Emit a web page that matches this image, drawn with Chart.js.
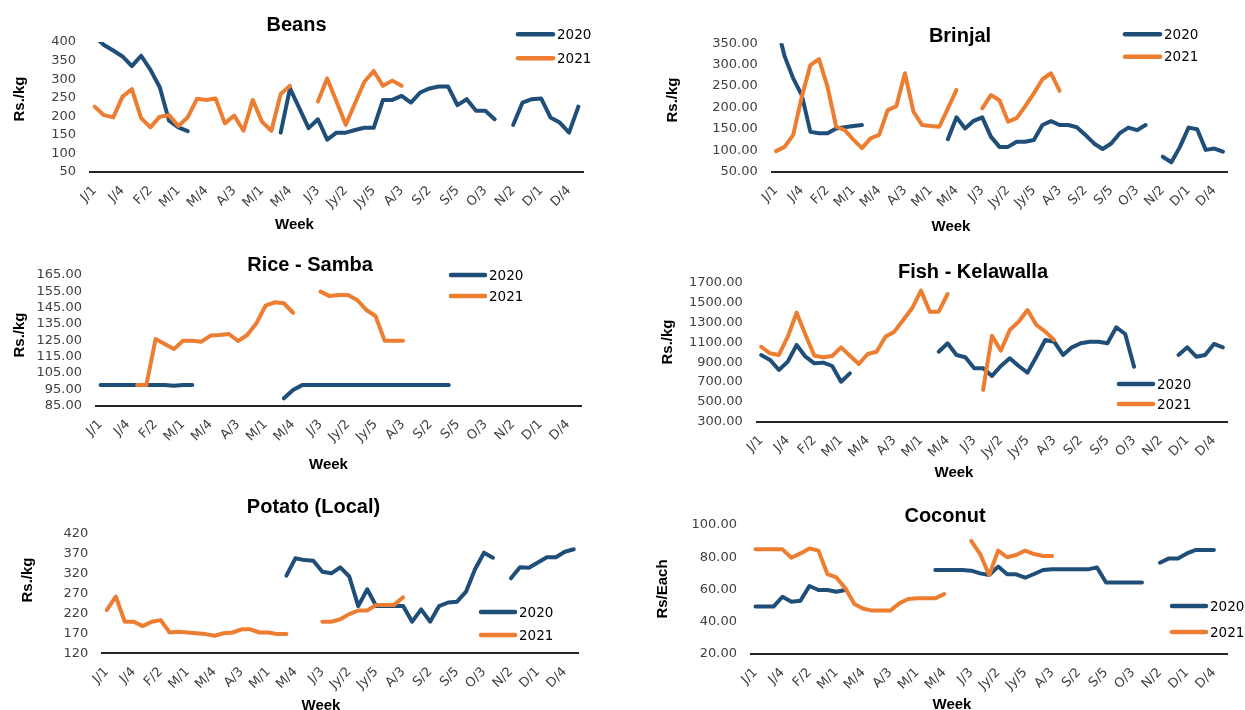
<!DOCTYPE html>
<html><head><meta charset="utf-8">
<script src="https://cdn.jsdelivr.net/npm/chart.js@4.4.1/dist/chart.umd.min.js"></script>
<style>
html,body{margin:0;padding:0;background:#fff;width:1245px;height:710px;overflow:hidden;position:relative}
canvas{position:absolute}
</style></head><body>
<canvas id="c0"></canvas><canvas id="c1"></canvas><canvas id="c2"></canvas>
<canvas id="c3"></canvas><canvas id="c4"></canvas><canvas id="c5"></canvas>
<script>
const N = null;
const weekLabels = ['J/1','J/2','J/3','J/4','J/5','F/1','F/2','F/3','F/4','M/1','M/2','M/3','M/4',
 'A/1','A/2','A/3','A/4','A/5','M/1','M/2','M/3','M/4','J/1','J/2','J/3','J/4',
 'Jy/1','Jy/2','Jy/3','Jy/4','Jy/5','A/1','A/2','A/3','A/4','S/1','S/2','S/3','S/4','S/5',
 'O/1','O/2','O/3','O/4','N/1','N/2','N/3','N/4','D/1','D/2','D/3','D/4','D/5'];
const seriesNames = ['2020','2021'];

const beans2020 = [415,392,377,361,335,363,325,278,188,170,160, N,N,N,N,N,N,N,N,N,
 156,275,222,168,192,137,156,156,163,169,169,244,244,255,237,264,275,280,280,230,246,215,215,192, N,
 177,237,246,248,197,183,156,226];
const beans2021 = [226,203,197,253,273,195,170,199,203,174,197,247,244,248,181,202,161,244,185,161,260,282, N,N,
 240,302,240,177,236,293,322,282,296,282, N,N,N,N,N,N,N,N,N,N,N,N,N,N,N,N,N,N,N];

const brinjal2020 = [400,320,268,229,143,140,140,151,154,157,159, N,N,N,N,N,N,N,N,N,
 126,177,151,169,177,132,108,108,120,120,124,159,168,159,159,154,136,116,103,116,140,153,147,159, N,
 85,72,108,153,149,101,104,97];
const brinjal2021 = [98,108,136,225,299,313,248,155,147,125,105,128,136,194,203,280,190,159,157,155,198,241, N,N,
 198,229,217,167,175,203,233,266,280,239, N,N,N,N,N,N,N,N,N,N,N,N,N,N,N,N,N,N,N];

const rice2020 = [97.6,97.6,97.6,97.6,97.6,97.6,97.6,97.6,97.2,97.6,97.6, N,N,N,N,N,N,N,N,N,
 89.5,94.6,97.6,97.6,97.6,97.6,97.6,97.6,97.6,97.6,97.6,97.6,97.6,97.6,97.6,97.6,97.6,97.6,97.6,
 N,N,N,N,N,N,N,N,N,N,N,N,N,N];
const rice2021 = [N,N,N,N,97.6,97.6,125.8,122.7,119.7,124.8,124.8,124.2,127.9,128.3,128.9,124.6,128.3,135.4,146.2,148.3,147.7,141.9, N,N,
 154.8,152.1,152.8,152.8,149.7,143.6,139.9,124.8,124.8,124.8, N,N,N,N,N,N,N,N,N,N,N,N,N,N,N,N,N,N,N];

const fish2020 = [972,922,821,905,1073,955,888,895,861,703,787, N,N,N,N,N,N,N,N,N,
 1005,1090,972,949,838,838,761,861,939,861,794,955,1123,1106,972,1049,1090,1106,1106,1090,1251,1183,854, N,N,N,N,
 972,1049,955,972,1083,1049];
const fish2021 = [1055,989,972,1156,1398,1173,965,949,962,1049,965,881,982,1005,1156,1207,1324,1442,1620,1408,1408,1586, N,N,N,
 620,1166,1015,1224,1307,1425,1274,1207,1123, N,N,N,N,N,N,N,N,N,N,N,N,N,N,N,N,N,N,N];

const potato2020 = [N,N,N,N,N,N,N,N,N,N,N,N,N,N,N,N,N,N,N,N,
 314,357.5,353,351.5,324,320,335,312,238,280,238,238,238,238,199,230,199,238,247,249,274,330,371.5,359, N,
 307.5,335,334,347,360,360,374,380];
const potato2021 = [228,262,199,199,188,199,203,172,174,172,170,168,164,170,172,180,180,172,172,168,168, N,N,N,
 199,199,205,218,227,227,241,241,241,260, N,N,N,N,N,N,N,N,N,N,N,N,N,N,N,N,N,N,N];

const coconut2020 = [49.4,49.4,49.4,55.5,52.4,53,62.2,59.7,59.7,58.6,59.7, N,N,N,N,N,N,N,N,N,
 72.1,72.1,72.1,72.1,71.7,70,69,74.2,69.4,69.4,67.3,69.6,72.1,72.5,72.5,72.5,72.5,72.5,73.7,64.4,64.4,64.4,64.4,64.4, N,
 76.6,79.3,79.3,82.4,84.5,84.5,84.5, N];
const coconut2021 = [84.9,84.9,84.9,84.9,79.7,82.4,85.5,84.1,69.6,67.5,60.7,51,48.1,46.9,46.9,46.9,51.4,54.1,54.5,54.5,54.5,57.2, N,N,
 90.1,82,69,84.1,80,81.4,84.1,82,80.8,80.8, N,N,N,N,N,N,N,N,N,N,N,N,N,N,N,N,N,N,N];

const BLUE = '#1F4E79', ORANGE = '#ED7D31';
const TICK_FONT = '"DejaVu Sans", sans-serif';
const BOLD_FONT = '"Liberation Sans", Arial, sans-serif';

const panels = [
 {id:'c0', title:'Beans', yTitle:'Rs./kg', d20:beans2020, d21:beans2021, min:50, max:400, step:50, dec:0,
  box:[0,0,622,240], area:[90,42,583,172], tPos:[296.5,31], yPos:[20,99], wPos:[294.5,229], leg:[516,555,34.3,58.3]},
 {id:'c1', title:'Brinjal', yTitle:'Rs./kg', d20:brinjal2020, d21:brinjal2021, min:50, max:350, step:50, dec:2,
  box:[622,0,623,240], area:[771.7,43.3,1240,171.7], tPos:[960,41.7], yPos:[673,100], wPos:[951,230.5], leg:[1123,1162,34.3,56.7]},
 {id:'c2', title:'Rice - Samba', yTitle:'Rs./kg', d20:rice2020, d21:rice2021, min:85, max:165, step:10, dec:2,
  box:[0,240,622,240], area:[96,275,581.7,405.7], tPos:[310,270.7], yPos:[20,335], wPos:[328.5,469], leg:[449,487,275,296]},
 {id:'c3', title:'Fish - Kelawalla', yTitle:'Rs./kg', d20:fish2020, d21:fish2021, min:300, max:1700, step:200, dec:2,
  box:[622,240,623,240], area:[756.7,282.7,1232.7,421.7], tPos:[973,277.7], yPos:[668,342], wPos:[954,477], leg:[1117,1155,384,404]},
 {id:'c4', title:'Potato (Local)', yTitle:'Rs./kg', d20:potato2020, d21:potato2021, min:120, max:420, step:50, dec:0,
  box:[0,480,622,230], area:[102.3,533.3,578.3,653.3], tPos:[313.5,513.3], yPos:[28,580], wPos:[321,710], leg:[479,517,612,635]},
 {id:'c5', title:'Coconut', yTitle:'Rs/Each', d20:coconut2020, d21:coconut2021, min:20, max:100, step:20, dec:2,
  box:[622,480,623,230], area:[751,525,1232.7,654], tPos:[945,521.7], yPos:[663,589], wPos:[952,709], leg:[1170,1208,606,632]}
];

const decor = {
  id: 'decor',
  afterDraw(chart, args, o) {
    const ctx = chart.ctx, ox = o.ox, oy = o.oy;
    ctx.save();
    ctx.fillStyle = '#000';
    ctx.textAlign = 'center';
    ctx.textBaseline = 'alphabetic';
    ctx.font = 'bold 20px ' + BOLD_FONT;
    ctx.fillText(o.title, o.tPos[0] - ox, o.tPos[1] - oy);
    ctx.font = 'bold 15px ' + BOLD_FONT;
    ctx.fillText('Week', o.wPos[0] - ox, o.wPos[1] - oy);
    ctx.save();
    ctx.translate(o.yPos[0] - ox, o.yPos[1] - oy);
    ctx.rotate(-Math.PI / 2);
    ctx.textBaseline = 'middle';
    ctx.fillText(o.yTitle, 0, 0);
    ctx.restore();
    // legend
    const ys = [o.leg[2], o.leg[3]];
    chart.data.datasets.forEach((ds, k) => {
      const y = ys[k] - oy;
      ctx.strokeStyle = ds.borderColor;
      ctx.lineWidth = 4.5;
      ctx.lineCap = 'round';
      ctx.beginPath();
      ctx.moveTo(o.leg[0] + 2 - ox, y);
      ctx.lineTo(o.leg[1] - 2 - ox, y);
      ctx.stroke();
      ctx.fillStyle = '#000';
      ctx.textAlign = 'left';
      ctx.textBaseline = 'middle';
      ctx.font = '13.5px ' + TICK_FONT;
      ctx.fillText(ds.label, o.leg[1] + 2 - ox, y + 1);
    });
    ctx.restore();
  }
};

panels.forEach(p => {
  const cv = document.getElementById(p.id);
  const [bx, by, bw, bh] = p.box;
  const [al, at, ar, ab] = p.area;
  cv.style.left = bx + 'px'; cv.style.top = by + 'px';
  cv.width = bw; cv.height = bh;
  cv.style.width = bw + 'px'; cv.style.height = bh + 'px';
  new Chart(cv, {
    type: 'line',
    data: {
      labels: weekLabels,
      datasets: [
        {label: seriesNames[0], data: p.d20, borderColor: BLUE, backgroundColor: BLUE, order: 1},
        {label: seriesNames[1], data: p.d21, borderColor: ORANGE, backgroundColor: ORANGE, order: 0}
      ]
    },
    options: {
      responsive: false,
      animation: false,
      devicePixelRatio: window.devicePixelRatio || 1,
      layout: {padding: {top: at - by, left: 0, right: (bx + bw) - ar, bottom: 0}},
      elements: {
        line: {borderWidth: 4, tension: 0, borderCapStyle: 'round', borderJoinStyle: 'round', fill: false},
        point: {radius: 0, hoverRadius: 0}
      },
      spanGaps: false,
      plugins: {
        legend: {display: false},
        title: {display: false},
        tooltip: {enabled: false},
        decor: {ox: bx, oy: by, title: p.title, yTitle: p.yTitle, tPos: p.tPos, yPos: p.yPos, wPos: p.wPos, leg: p.leg}
      },
      scales: {
        x: {
          type: 'category',
          offset: true,
          grid: {display: false, drawTicks: false},
          border: {display: true, color: '#262626', width: 2},
          ticks: {
            autoSkip: false, minRotation: 45, maxRotation: 45, padding: 11,
            color: '#404040', font: {family: TICK_FONT, size: 13},
            callback: function (v, i) { return i % 3 === 0 ? this.getLabelForValue(v) : ''; }
          },
          afterFit: s => { s.height = (by + bh) - ab; }
        },
        y: {
          type: 'linear',
          min: p.min, max: p.max,
          grid: {display: false, drawTicks: false},
          border: {display: false},
          ticks: {
            stepSize: p.step, autoSkip: false, padding: 14,
            color: '#404040', font: {family: TICK_FONT, size: 13},
            callback: v => Number(v).toFixed(p.dec)
          },
          afterFit: s => { s.width = al - bx; }
        }
      }
    },
    plugins: [decor]
  });
});
</script>
</body></html>
